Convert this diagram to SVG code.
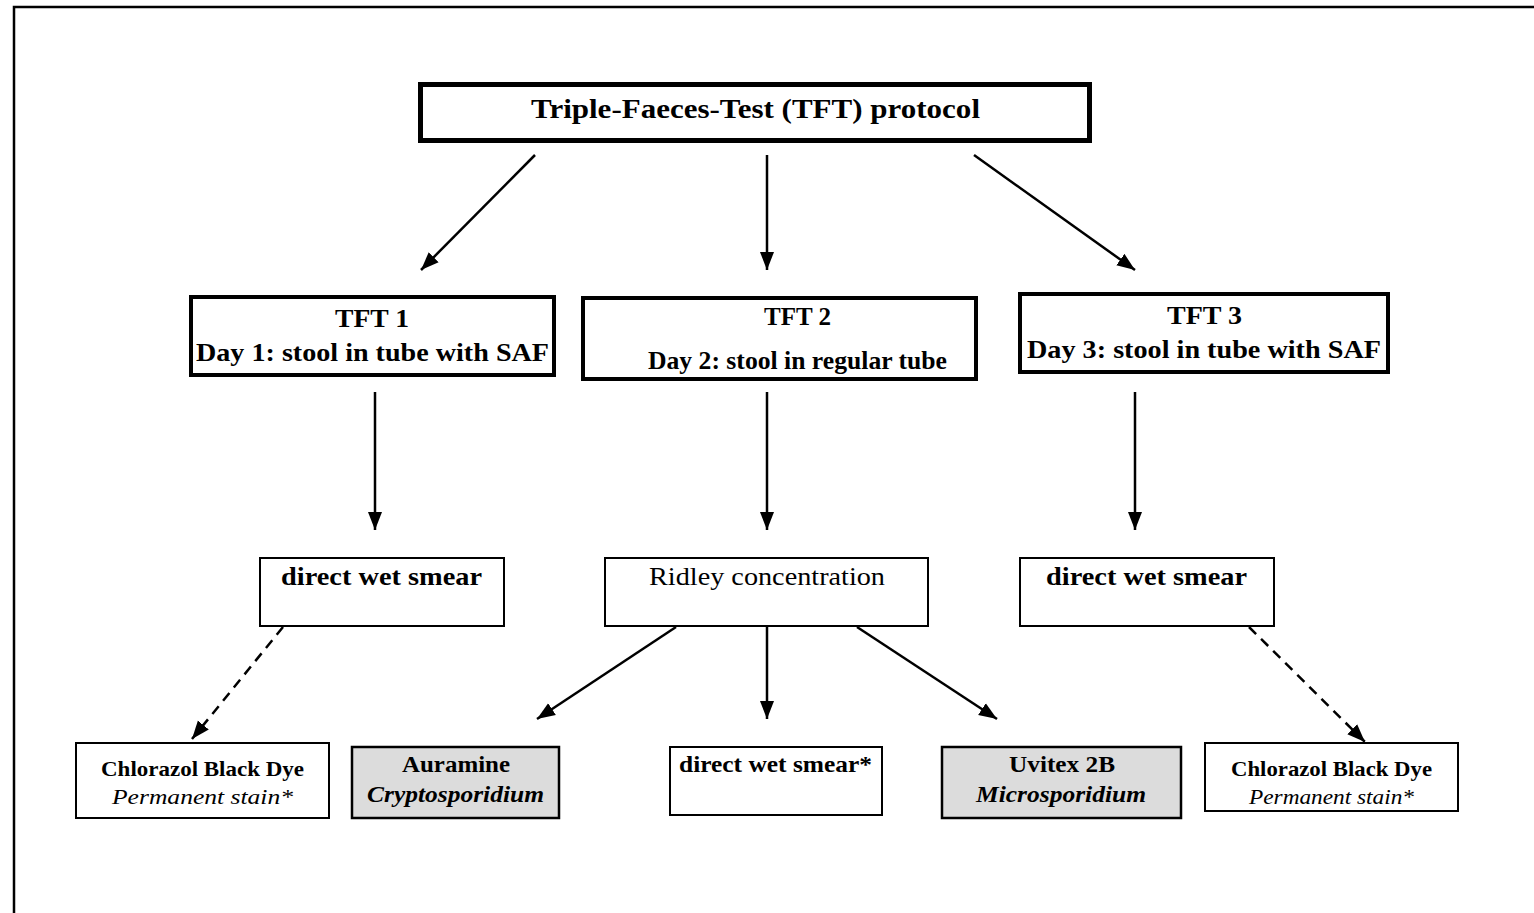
<svg xmlns="http://www.w3.org/2000/svg" width="1534" height="913" viewBox="0 0 1534 913">
<style>
text{font-family:"Liberation Serif","Times New Roman",serif;fill:#000;text-anchor:middle}
.b{font-weight:bold}
.i{font-style:italic}
.thick{fill:#fff;stroke:#000;stroke-width:5}
.med{fill:#fff;stroke:#000;stroke-width:4}
.thin{fill:#fff;stroke:#000;stroke-width:2}
.gray{fill:#dcdcdc;stroke:#000;stroke-width:2.5}
.ln{stroke:#000;stroke-width:2.5;fill:none;marker-end:url(#ah)}
.dash{stroke-dasharray:10 7}
</style>
<defs>
<marker id="ah" markerUnits="userSpaceOnUse" markerWidth="20" markerHeight="16" viewBox="0 0 20 16" refX="18" refY="8" orient="auto">
<path d="M0,1 L18,8 L0,15 Z" fill="#000"/>
</marker>
</defs>
<rect x="0" y="0" width="1534" height="913" fill="#fff"/>
<path d="M14,913 L14,7 L1534,7" fill="none" stroke="#000" stroke-width="2.5"/>

<g id="connectors">
<line class="ln" x1="535" y1="155" x2="421" y2="270"/>
<line class="ln" x1="767" y1="155" x2="767" y2="270"/>
<line class="ln" x1="974" y1="155" x2="1135" y2="270"/>
<line class="ln" x1="375" y1="392" x2="375" y2="530"/>
<line class="ln" x1="767" y1="392" x2="767" y2="530"/>
<line class="ln" x1="1135" y1="392" x2="1135" y2="530"/>
<line class="ln" x1="676" y1="627" x2="537" y2="719"/>
<line class="ln" x1="767" y1="627" x2="767" y2="719"/>
<line class="ln" x1="857" y1="627" x2="997" y2="719"/>
<line class="ln dash" x1="283" y1="627" x2="192" y2="739"/>
<line class="ln dash" x1="1249" y1="627" x2="1365" y2="742"/>
</g>

<g id="title">
<rect class="thick" x="420.5" y="84.5" width="669" height="56"/>
<text class="b" x="755.5" y="118" font-size="28" textLength="449" lengthAdjust="spacingAndGlyphs">Triple-Faeces-Test (TFT) protocol</text>
</g>

<g id="tft1">
<rect class="med" x="191" y="297" width="363" height="78"/>
<text class="b" x="372" y="327" font-size="25" textLength="74" lengthAdjust="spacingAndGlyphs">TFT 1</text>
<text class="b" x="372.5" y="361" font-size="25" textLength="353" lengthAdjust="spacingAndGlyphs">Day 1: stool in tube with SAF</text>
</g>

<g id="tft2">
<rect class="med" x="583" y="298" width="393" height="81"/>
<text class="b" x="797.5" y="325" font-size="25" textLength="67" lengthAdjust="spacingAndGlyphs">TFT 2</text>
<text class="b" x="797.5" y="369" font-size="25" textLength="299" lengthAdjust="spacingAndGlyphs">Day 2: stool in regular tube</text>
</g>

<g id="tft3">
<rect class="med" x="1020" y="294" width="368" height="78"/>
<text class="b" x="1204.5" y="324" font-size="25" textLength="75" lengthAdjust="spacingAndGlyphs">TFT 3</text>
<text class="b" x="1204" y="358" font-size="25" textLength="354" lengthAdjust="spacingAndGlyphs">Day 3: stool in tube with SAF</text>
</g>

<g id="dws1">
<rect class="thin" x="260" y="558" width="244" height="68"/>
<text class="b" x="381.5" y="585" font-size="25" textLength="201" lengthAdjust="spacingAndGlyphs">direct wet smear</text>
</g>

<g id="ridley">
<rect class="thin" x="605" y="558" width="323" height="68"/>
<text x="767" y="585" font-size="25" textLength="236" lengthAdjust="spacingAndGlyphs">Ridley concentration</text>
</g>

<g id="dws3">
<rect class="thin" x="1020" y="558" width="254" height="68"/>
<text class="b" x="1146.5" y="585" font-size="25" textLength="201" lengthAdjust="spacingAndGlyphs">direct wet smear</text>
</g>

<g id="chlorazol1">
<rect class="thin" x="76" y="743" width="253" height="75"/>
<text class="b" x="202.5" y="776" font-size="22" textLength="203" lengthAdjust="spacingAndGlyphs">Chlorazol Black Dye</text>
<text class="i" x="202.5" y="804" font-size="22" textLength="181" lengthAdjust="spacingAndGlyphs">Permanent stain*</text>
</g>

<g id="auramine">
<rect class="gray" x="352" y="747" width="207" height="71"/>
<text class="b" x="456" y="772" font-size="24" textLength="108" lengthAdjust="spacingAndGlyphs">Auramine</text>
<text class="b i" x="455.5" y="802" font-size="24" textLength="177" lengthAdjust="spacingAndGlyphs">Cryptosporidium</text>
</g>

<g id="dws2">
<rect class="thin" x="670" y="747" width="212" height="68"/>
<text class="b" x="775.5" y="772" font-size="24" textLength="193" lengthAdjust="spacingAndGlyphs">direct wet smear*</text>
</g>

<g id="uvitex">
<rect class="gray" x="942" y="747" width="239" height="71"/>
<text class="b" x="1062" y="772" font-size="24" textLength="106" lengthAdjust="spacingAndGlyphs">Uvitex 2B</text>
<text class="b i" x="1061" y="802" font-size="24" textLength="170" lengthAdjust="spacingAndGlyphs">Microsporidium</text>
</g>

<g id="chlorazol2">
<rect class="thin" x="1205" y="743" width="253" height="68"/>
<text class="b" x="1331.5" y="776" font-size="22" textLength="201" lengthAdjust="spacingAndGlyphs">Chlorazol Black Dye</text>
<text class="i" x="1331.5" y="804" font-size="22" textLength="165" lengthAdjust="spacingAndGlyphs">Permanent stain*</text>
</g>
</svg>
